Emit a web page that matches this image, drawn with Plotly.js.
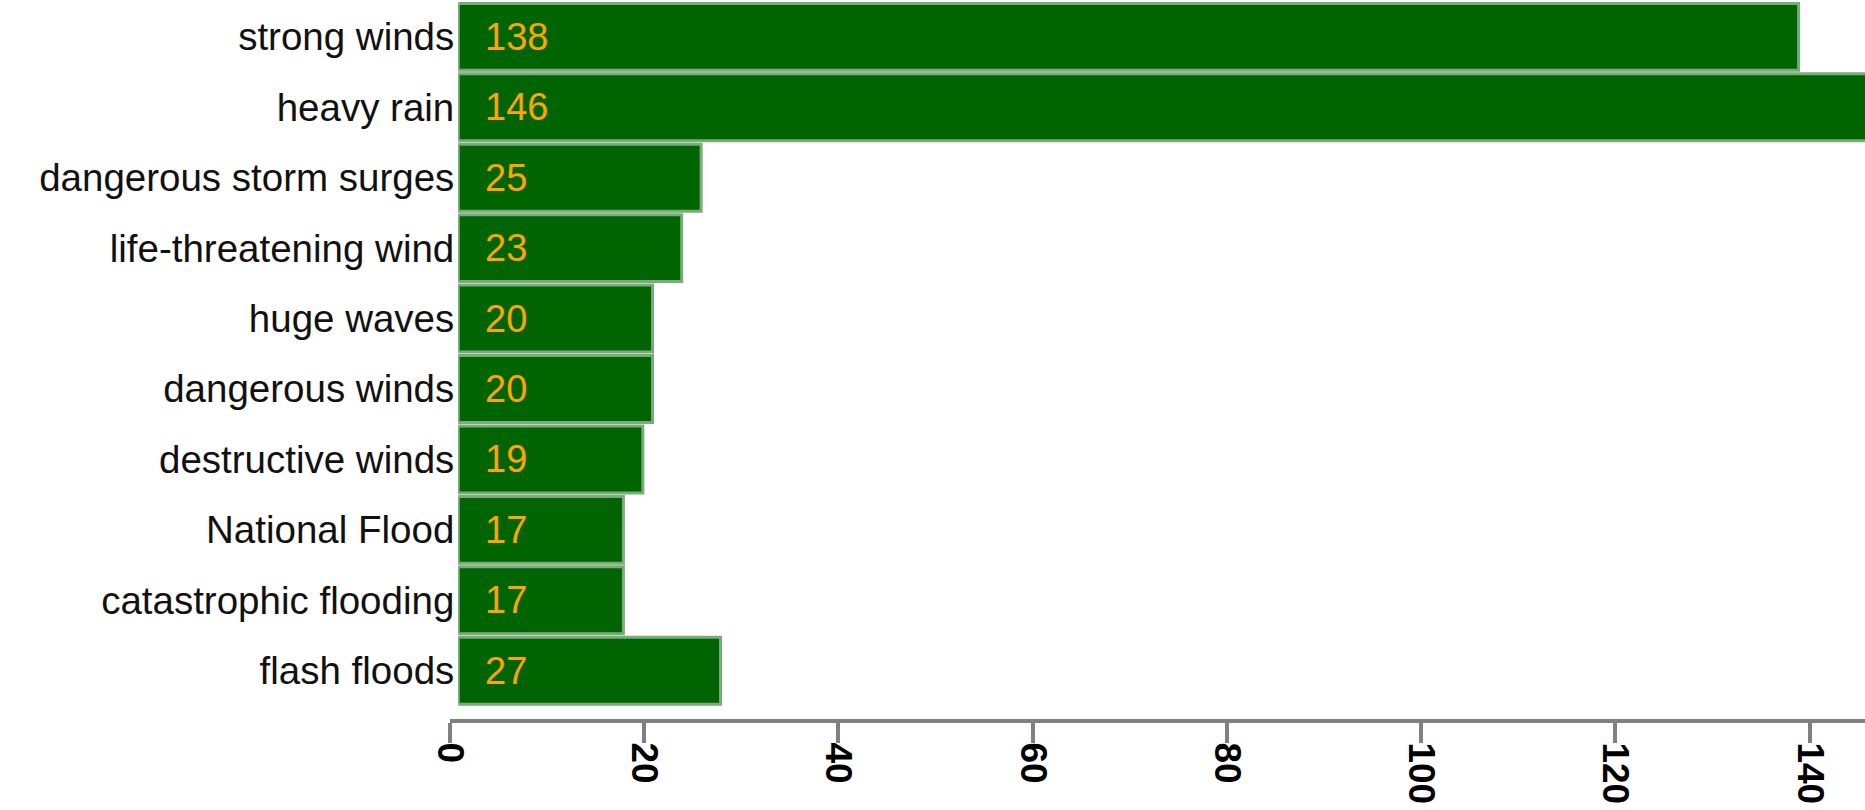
<!DOCTYPE html>
<html>
<head>
<meta charset="utf-8">
<script src="https://cdn.plot.ly/plotly-3.0.1.min.js"></script>
<style>
  html, body { margin: 0; padding: 0; background: #ffffff; }
  #chart { width: 1865px; height: 810px; }
</style>
</head>
<body>
<div id="chart"></div>
<script>
// ---- data ----
var categories = [
  "strong winds",
  "heavy rain",
  "dangerous storm surges",
  "life-threatening wind",
  "huge waves",
  "dangerous winds",
  "destructive winds",
  "National Flood",
  "catastrophic flooding",
  "flash floods"
];
var counts = [138, 146, 25, 23, 20, 20, 19, 17, 17, 27];
var xTickValues = [0, 20, 40, 60, 80, 100, 120, 140];

// ---- geometry (pixel layout of the reference) ----
var W = 1865, H = 810;
var pxPerUnit = 9.712;
var barStartPx = 458.3;   // left edge of bars
var axisZeroPx = 450;     // position of the 0 tick
var FONT = '"Liberation Sans", Arial, Helvetica, sans-serif';

var bars = {
  type: 'bar',
  orientation: 'h',
  x: counts,
  y: categories,
  xaxis: 'x',
  yaxis: 'y',
  marker: {
    color: '#006400',
    line: { color: '#7aab7a', width: 3 }
  },
  hoverinfo: 'x+y'
};

// invisible companion trace so the tick axis (x2) gets drawn
var axisCarrier = {
  type: 'scatter',
  mode: 'markers',
  x: counts,
  y: categories,
  xaxis: 'x2',
  yaxis: 'y',
  marker: { opacity: 0, size: 1 },
  hoverinfo: 'skip',
  showlegend: false
};

var annotations = categories.map(function (c, i) {
  return {
    x: 0, xref: 'x',
    y: c, yref: 'y',
    text: String(counts[i]),
    showarrow: false,
    xanchor: 'left',
    yanchor: 'middle',
    xshift: 27,
    borderpad: 0,
    borderwidth: 0,
    font: { family: FONT, size: 38, color: '#FFA500' }
  };
});

var layout = {
  width: W,
  height: H,
  margin: { l: 0, r: 0, t: 0, b: 91, pad: 0 },
  paper_bgcolor: '#ffffff',
  plot_bgcolor: 'rgba(0,0,0,0)',
  showlegend: false,
  bargap: 0.05,
  xaxis: {
    domain: [barStartPx / W, 1],
    range: [0, (W - barStartPx) / pxPerUnit],
    showgrid: false,
    zeroline: false,
    showline: false,
    showticklabels: false,
    ticks: '',
    fixedrange: true
  },
  xaxis2: {
    domain: [axisZeroPx / W, 1],
    range: [0, (W - axisZeroPx) / pxPerUnit],
    anchor: 'y',
    tickmode: 'array',
    tickvals: xTickValues,
    ticktext: xTickValues.map(String),
    showgrid: false,
    zeroline: false,
    showline: true,
    linecolor: '#808080',
    linewidth: 4,
    ticks: 'outside',
    ticklen: 20,
    tickwidth: 4,
    tickcolor: '#808080',
    tickangle: 90,
    ticklabelstandoff: -8,
    tickfont: { family: FONT, size: 37, color: '#000000', weight: 'bold' },
    fixedrange: true
  },
  yaxis: {
    anchor: 'x',
    type: 'category',
    categoryorder: 'array',
    categoryarray: categories,
    range: [9.685, -0.523],
    showgrid: false,
    zeroline: false,
    showline: false,
    ticks: '',
    ticklabelstandoff: 3,
    automargin: false,
    tickfont: { family: FONT, size: 38.5, color: '#111111' },
    fixedrange: true
  },
  annotations: annotations
};

Plotly.newPlot('chart', [bars, axisCarrier], layout, { displayModeBar: false, staticPlot: true });
</script>
</body>
</html>
